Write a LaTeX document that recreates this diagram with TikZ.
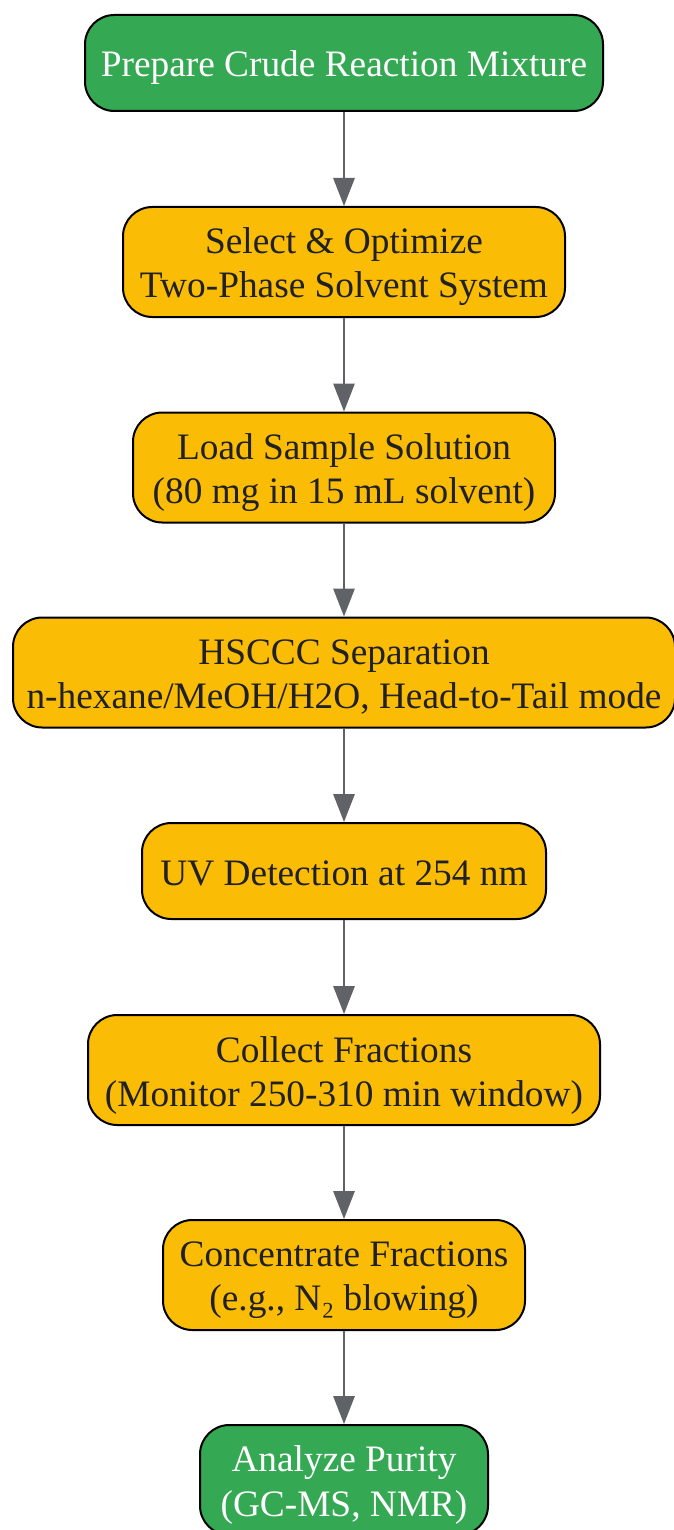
\documentclass[tikz,border=0pt]{standalone}
\usepackage{fontspec}
\setmainfont{Liberation Serif}
\usetikzlibrary{arrows.meta}
\definecolor{stepgreen}{HTML}{34A853}
\definecolor{stepyellow}{HTML}{FBBC05}
\definecolor{textdark}{HTML}{202124}
\definecolor{arrowgray}{HTML}{5F6368}
\newcommand{\ls}{\rule[-6pt]{0pt}{33pt}}
\begin{document}
\begin{tikzpicture}
  [x=0.75pt,y=-0.75pt,every node/.style={rectangle,rounded corners=22pt,draw=black,line width=1.5pt,align=center,inner sep=0pt,font=\fontsize{28}{33}\selectfont}]
  \tikzstyle{start} = [fill=stepgreen,text=white]
  \tikzstyle{work} = [fill=stepyellow,text=textdark]
  \tikzstyle{flow} = [draw=arrowgray,line width=1.5pt,-{Triangle[length=21pt,width=16pt]}]
  \useasboundingbox (0,0) rectangle (674,1530);
  \node[start,minimum width=388.5pt,minimum height=72pt] (prep) at (344,63) {\ls Prepare Crude Reaction Mixture};
  \node[work,minimum width=331.5pt,minimum height=82.5pt] (solvent) at (344,262) {\ls Select \& Optimize\\\ls Two-Phase Solvent System};
  \node[work,minimum width=316.5pt,minimum height=82.5pt] (load) at (344,467.5) {\ls Load Sample Solution\\\ls (80 mg in 15 mL solvent)};
  \node[work,minimum width=496.5pt,minimum height=82.5pt] (sep) at (344,672.5) {\ls HSCCC Separation\\\ls n-hexane/MeOH/H2O, Head-to-Tail mode};
  \node[work,minimum width=303pt,minimum height=72pt] (uv) at (344,871) {\ls UV Detection at 254 nm};
  \node[work,minimum width=384pt,minimum height=82.5pt] (collect) at (344,1070) {\ls Collect Fractions\\\ls (Monitor 250-310 min window)};
  \node[work,minimum width=271.5pt,minimum height=82.5pt] (conc) at (344,1275) {\ls Concentrate Fractions\\\ls (e.g., N₂ blowing)};
  \node[start,minimum width=216pt,minimum height=82.5pt] (analyze) at (344,1480) {\ls Analyze Purity\\\ls (GC-MS, NMR)};
  \foreach \source/\dest in {prep/solvent,solvent/load,load/sep,sep/uv,uv/collect,collect/conc,conc/analyze}
   \draw[flow] (\source) -- (\dest);
\end{tikzpicture}
\end{document}
